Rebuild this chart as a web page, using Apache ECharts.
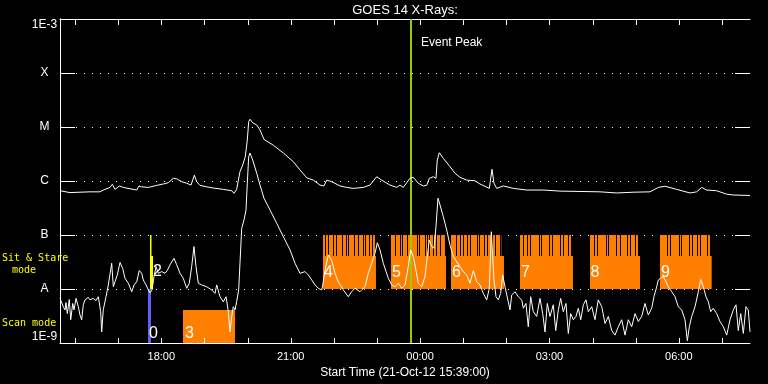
<!DOCTYPE html>
<html><head><meta charset="utf-8">
<script src="https://cdn.jsdelivr.net/npm/echarts@6/dist/echarts.min.js"></script>
<style>html,body{margin:0;padding:0;background:#000;}#c{width:768px;height:384px;}</style>
</head><body><div id="c"></div>
<script>
// time is minutes elapsed since the start time 21-Oct-12 15:39:00
const startClockMin = 15 * 60 + 39;
const spanMin = 960;
const hourTicks = [21,81,141,201,261,321,381,441,501,561,621,681,741,801,861,921];
const labelTicks = [141,321,501,681,861];
const yLevels = [1e-9,1e-8,1e-7,1e-6,1e-5,1e-4,1e-3];
const yLevelNames = ['1E-9','A','B','C','M','X','1E-3'];

// GOES 14 long channel (1-8 A), [minutes, W/m2]
const longChannel = [[0,6.6e-7],[13.9,6.1e-7],[27.8,6.2e-7],[41.7,6.3e-7],[55.7,6.3e-7],[60.2,6.8e-7],[69.6,7.6e-7],[72.8,8.7e-7],[76.5,7.0e-7],[82.5,8.1e-7],[88.1,7.6e-7],[97.4,7.2e-7],[106.7,6.8e-7],[109.9,8.1e-7],[113.7,7.8e-7],[122.9,7.6e-7],[134.5,8.3e-7],[143.7,8.8e-7],[150.7,9.3e-7],[157.6,1.12e-6],[162.4,1.10e-6],[169.3,9.7e-7],[176.3,9.1e-7],[182.3,8.4e-7],[186.9,1.28e-6],[190.2,9.7e-7],[194.8,8.3e-7],[204.1,7.8e-7],[213.3,7.4e-7],[227.2,7.0e-7],[238.9,6.6e-7],[242.1,5.9e-7],[245.8,7.0e-7],[250.4,1.49e-6],[254.2,1.98e-6],[257.8,2.82e-6],[260.6,5.74e-6],[262.5,1.25e-5],[264.3,1.39e-5],[268.1,1.20e-5],[273.7,1.09e-5],[278.3,8.8e-6],[283.8,5.9e-6],[296.8,4.6e-6],[310.7,3.3e-6],[324.6,2.28e-6],[333.9,1.60e-6],[343.2,1.15e-6],[352.4,1.04e-6],[361.7,8.4e-7],[367.3,8.1e-7],[371.1,1.04e-6],[378.0,9.7e-7],[389.6,8.1e-7],[398.9,7.6e-7],[408.1,7.3e-7],[422.0,7.6e-7],[431.3,8.4e-7],[440.6,1.20e-6],[447.6,1.04e-6],[459.1,8.4e-7],[468.5,7.6e-7],[473.0,8.4e-7],[477.6,7.6e-7],[486.9,1.12e-6],[491.5,1.17e-6],[498.5,9.1e-7],[505.5,8.1e-7],[510.2,8.3e-7],[513.8,1.12e-6],[519.4,1.20e-6],[523.1,1.12e-6],[524.9,2.45e-6],[527.7,3.34e-6],[533.3,2.63e-6],[542.6,1.84e-6],[549.6,1.39e-6],[551.9,1.49e-6],[556.5,1.17e-6],[565.8,1.04e-6],[577.4,1.01e-6],[584.3,8.8e-7],[597.3,7.3e-7],[601.0,1.65e-6],[603.8,9.1e-7],[607.6,7.3e-7],[616.8,8.1e-7],[630.7,7.3e-7],[649.3,6.8e-7],[672.4,6.8e-7],[695.7,6.5e-7],[723.5,6.4e-7],[751.3,6.3e-7],[774.5,6.0e-7],[797.6,6.2e-7],[820.8,6.3e-7],[832.4,7.6e-7],[841.7,8.0e-7],[858.0,7.0e-7],[876.5,6.0e-7],[885.8,6.3e-7],[892.8,7.6e-7],[899.7,6.8e-7],[913.6,6.6e-7],[927.6,5.7e-7],[936.8,5.5e-7],[960,5.4e-7]];

// GOES 14 short channel (0.5-4 A), [minutes, W/m2]
const shortChannel = [[0,6.7e-9],[2.4,6.7e-9],[4.6,4.7e-9],[7.0,4.1e-9],[8.3,5.6e-9],[10.2,3.5e-9],[12.9,6.4e-9],[14.9,2.7e-9],[17.7,5.4e-9],[19.5,4.1e-9],[22.3,6.7e-9],[25.5,4.7e-9],[27.8,3.3e-9],[30.2,2.7e-9],[32.4,5.1e-9],[34.8,6.3e-9],[39.4,7.0e-9],[41.7,6.3e-9],[46.3,6.7e-9],[50.1,6.1e-9],[53.3,7.2e-9],[56.6,3.8e-9],[58.0,1.6e-9],[60.2,4.1e-9],[64.0,7.2e-9],[67.2,1.19e-8],[69.6,1.28e-8],[71.9,3.0e-8],[74.2,1.10e-8],[76.5,1.36e-8],[79.7,1.82e-8],[83.5,3.1e-8],[87.2,2.4e-8],[90.4,1.58e-8],[95.0,1.28e-8],[99.8,8.9e-9],[103.0,1.19e-8],[106.7,1.36e-8],[110.3,2.2e-8],[113.7,1.95e-8],[115.9,1.47e-8],[119.7,1.19e-8],[122.9,9.6e-9],[125.2,8.5e-9],[128.0,9.6e-9],[130.8,1.69e-8],[133.6,2.6e-8],[136.8,1.95e-8],[141.5,2.1e-8],[146.1,1.95e-8],[149.3,2.2e-8],[153.0,2.8e-8],[158.6,3.7e-8],[162.4,2.8e-8],[167.0,1.95e-8],[171.5,1.58e-8],[176.3,1.03e-8],[179.9,1.28e-8],[183.2,2.6e-8],[186.4,6.1e-8],[189.2,2.6e-8],[192.4,1.28e-8],[197.1,1.19e-8],[204.1,1.10e-8],[211.1,9.6e-9],[215.7,8.3e-9],[218.0,1.19e-8],[222.6,7.2e-9],[227.2,5.8e-9],[231.0,7.2e-9],[234.2,3.8e-9],[236.5,1.6e-9],[238.9,3.1e-9],[241.1,4.7e-9],[243.5,4.1e-9],[245.8,5.8e-9],[248.6,9.6e-9],[250.4,3.0e-8],[252.8,1.33e-7],[256.0,1.90e-7],[258.8,2.9e-7],[260.6,9.1e-7],[262.5,2.8e-6],[264.3,3.3e-6],[268.1,2.45e-6],[273.7,1.39e-6],[278.3,8.4e-7],[283.8,4.8e-7],[292.2,2.9e-7],[301.5,1.65e-7],[310.7,9.3e-8],[320.0,5.3e-8],[327.0,3.0e-8],[333.9,1.95e-8],[340.9,2.1e-8],[345.5,1.82e-8],[350.2,1.47e-8],[354.8,1.19e-8],[359.4,1.03e-8],[364.1,9.6e-9],[365.5,1.19e-8],[368.7,2.2e-8],[373.3,4.3e-8],[378.0,3.4e-8],[382.6,1.95e-8],[387.2,1.36e-8],[394.2,9.6e-9],[401.1,7.2e-9],[405.8,8.9e-9],[410.4,1.03e-8],[417.4,8.9e-9],[424.3,1.10e-8],[428.9,1.95e-8],[433.7,3.0e-8],[438.3,4.6e-8],[441.5,7.2e-8],[445.2,5.3e-8],[449.8,3.0e-8],[456.8,1.58e-8],[461.5,1.19e-8],[466.1,1.10e-8],[470.7,1.28e-8],[475.4,1.03e-8],[480.0,1.19e-8],[484.6,2.6e-8],[487.9,5.3e-8],[491.5,4.0e-8],[495.3,2.2e-8],[498.5,1.28e-8],[503.2,1.10e-8],[507.8,1.69e-8],[511.0,4.0e-8],[513.8,8.1e-8],[517.2,6.1e-8],[520.4,5.7e-8],[523.1,1.43e-7],[525.9,4.8e-7],[528.7,3.6e-7],[533.3,2.18e-7],[538.0,1.24e-7],[542.6,6.5e-8],[547.2,4.0e-8],[551.9,3.2e-8],[556.5,2.6e-8],[561.1,2.1e-8],[565.8,1.82e-8],[570.4,1.28e-8],[575.0,2.2e-8],[579.7,1.36e-8],[584.3,1.19e-8],[588.9,8.3e-9],[593.7,6.3e-9],[597.3,1.03e-8],[600.1,1.15e-7],[603.8,1.47e-8],[606.6,7.2e-9],[609.8,6.3e-9],[613.1,8.3e-9],[615.9,1.82e-8],[619.1,1.10e-8],[623.7,5.8e-9],[626.1,4.1e-9],[628.4,7.7e-9],[633.0,8.9e-9],[637.6,7.2e-9],[642.4,6.3e-9],[644.6,4.4e-9],[648.3,5.4e-9],[651.5,2.0e-9],[654.9,7.2e-9],[658.5,3.8e-9],[663.2,3.1e-9],[667.8,6.7e-9],[671.6,3.5e-9],[674.8,1.6e-9],[678.0,5.4e-9],[681.7,3.1e-9],[686.3,5.1e-9],[689.7,1.7e-9],[693.3,4.1e-9],[696.6,6.7e-9],[700.2,3.8e-9],[704.0,5.4e-9],[707.2,1.5e-9],[710.5,3.5e-9],[714.2,2.7e-9],[717.9,3.1e-9],[721.1,4.4e-9],[724.5,2.7e-9],[728.1,5.1e-9],[731.8,6.3e-9],[735.0,3.8e-9],[739.8,4.7e-9],[744.3,2.7e-9],[748.9,6.3e-9],[753.7,4.7e-9],[758.3,2.3e-9],[762.9,3.1e-9],[767.6,1.7e-9],[772.2,1.4e-9],[776.8,2.0e-9],[781.5,2.7e-9],[786.1,1.4e-9],[790.7,2.7e-9],[795.4,2.0e-9],[800.0,3.5e-9],[804.6,2.5e-9],[809.3,3.1e-9],[813.9,5.4e-9],[818.5,3.3e-9],[823.2,4.4e-9],[826.4,7.2e-9],[830.2,1.10e-8],[832.4,1.47e-8],[835.7,1.58e-8],[839.4,1.69e-8],[843.1,1.36e-8],[846.3,1.10e-8],[851.1,8.9e-9],[855.7,7.2e-9],[860.2,4.7e-9],[865.0,4.1e-9],[869.6,2.7e-9],[872.8,1.1e-9],[875.6,2.0e-9],[878.9,3.1e-9],[883.5,4.7e-9],[888.1,8.9e-9],[891.4,1.5e-8],[895.0,1.10e-8],[898.8,7.2e-9],[902.0,5.8e-9],[905.3,3.8e-9],[908.9,4.4e-9],[913.7,3.5e-9],[918.3,2.5e-9],[922.9,2.0e-9],[927.6,1.4e-9],[932.2,2.7e-9],[936.8,4.1e-9],[940.5,5.1e-9],[943.7,1.7e-9],[947.1,3.5e-9],[950.7,1.5e-9],[954.4,4.7e-9],[957.6,4.1e-9],[960,1.6e-9]];

// observation blocks: [start, end, low, high]
const scanBlocks = [[171.1,243.5,1e-9,4.1e-9]];
const blueBlocks = [[122.4,126.6,1e-9,1e-8]];
const yellowBlocks = [[125.2,129.4,1e-8,4.1e-8],[125.2,127.3,4.1e-8,1e-7]];
const sitStareStart = [365.9,460.5,544.0,640.0,737.4,834.8];
const sitStareEnd   = [439.6,537.0,617.7,713.7,807.0,906.7];
const sitStareExpEnd= [438.2,535.6,614.1,711.0,804.2,904.3];
const stripeTimes = [368.7,372.9,379.8,384.0,392.3,397.9,400.7,409.0,414.6,421.6,424.3,429.9,434.1,
  466.1,473.0,475.4,483.2,486.9,497.1,499.9,507.9,511.0,513.8,519.4,523.1,528.7,
  551.0,556.5,560.3,566.7,570.4,579.7,582.9,589.9,593.7,601.5,605.2,612.2,
  643.8,649.7,653.5,666.0,669.6,680.8,685.0,696.1,699.8,706.8,710.5,
  742.9,747.1,759.2,762.8,774.0,778.7,789.3,793.5,800.4,804.2,
  844.9,849.1,860.8,864.0,875.5,879.3,886.7,890.4,900.6,904.3];
const blockLabels = [['0',123.8,1.5e-9],['2',129.4,2.1e-8],['3',173.9,1.5e-9],['4',367.3,2.0e-8],['5',461.9,2.0e-8],['6',545.4,2.0e-8],['7',641.4,2.0e-8],['8',738.0,2.0e-8],['9',836.2,2.0e-8]];
const eventPeakT = 488.3;
const eventLabelPos = [488.3, 3.7e-4];

const orangeBlocks = scanBlocks.slice();
for (let i = 0; i < sitStareStart.length; i++) {
  orangeBlocks.push([sitStareStart[i], sitStareEnd[i], 1e-8, 4.1e-8]);
  orangeBlocks.push([sitStareStart[i], sitStareExpEnd[i], 4.1e-8, 1e-7]);
}

function rectItem(color) {
  return function (params, api) {
    const p0 = api.coord([api.value(0), api.value(3)]);
    const p1 = api.coord([api.value(1), api.value(2)]);
    return { type: 'rect', shape: { x: p0[0], y: p0[1], width: p1[0] - p0[0], height: p1[1] - p0[1] }, style: { fill: color } };
  };
}
function seg(x1, y1, x2, y2) {
  return { type: 'line', shape: { x1: x1, y1: y1, x2: x2, y2: y2 }, style: { stroke: '#fff', lineWidth: 1 } };
}

const FONT = 'Liberation Sans';
const MONO = 'DejaVu Sans Mono';
const chart = echarts.init(document.getElementById('c'));
const axisWhite = { lineStyle: { color: '#fff', width: 1 } };
function clock(v) {
  const m = Math.round(startClockMin + v) % 1440;
  const h = Math.floor(m / 60), mm = m % 60;
  return (h < 10 ? '0' : '') + h + ':' + (mm < 10 ? '0' : '') + mm;
}
function levelName(v) {
  const i = yLevels.findIndex(l => Math.abs(Math.log10(l) - Math.log10(v)) < 0.01);
  return i < 0 ? '' : yLevelNames[i];
}

chart.setOption({
  backgroundColor: '#000',
  animation: false,
  title: { text: 'GOES 14 X-Rays:', left: 405, top: 4, padding: 0, textAlign: 'center',
    textStyle: { color: '#fff', fontFamily: FONT, fontSize: 13, fontWeight: 'normal' } },
  grid: { left: 60, right: 18, top: 19, bottom: 41 },
  xAxis: [
    { type: 'value', min: 0, max: spanMin, position: 'bottom',
      axisLine: axisWhite, axisTick: { show: false },
      axisLabel: { customValues: labelTicks, formatter: clock, color: '#fff', fontFamily: FONT, fontSize: 11, margin: 8 },
      splitLine: { show: false },
      name: 'Start Time (21-Oct-12 15:39:00)', nameLocation: 'middle', nameGap: 22,
      nameTextStyle: { color: '#fff', fontFamily: FONT, fontSize: 12 } },
    { type: 'value', min: 0, max: spanMin, position: 'top',
      axisLine: axisWhite, axisTick: { show: false },
      axisLabel: { show: false }, splitLine: { show: false } }
  ],
  yAxis: [
    { type: 'log', logBase: 10, min: 1e-9, max: 1e-3, position: 'left',
      axisLine: axisWhite, axisTick: { show: false },
      axisLabel: { customValues: yLevels, formatter: levelName, color: '#fff', fontFamily: FONT, fontSize: 12,
        margin: 15.5, align: 'center', verticalAlignMaxLabel: 'top', verticalAlignMinLabel: 'bottom' },
      splitLine: { show: true, lineStyle: { color: '#fff', width: 1, type: [1, 7] } } },
    { type: 'log', logBase: 10, min: 1e-9, max: 1e-3, position: 'right',
      axisLine: axisWhite, axisTick: { show: false },
      axisLabel: { show: false }, splitLine: { show: false } }
  ],
  graphic: [
    { type: 'text', left: 2, top: 253, style: { text: 'Sit & Stare', fill: '#ffff00', font: '10px ' + MONO } },
    { type: 'text', left: 12, top: 265, style: { text: 'mode', fill: '#ffff00', font: '10px ' + MONO } },
    { type: 'text', left: 2, top: 318, style: { text: 'Scan mode', fill: '#ffff00', font: '10px ' + MONO } }
  ],
  series: [
    { type: 'custom', z: 2, renderItem: rectItem('#ff7f00'), data: orangeBlocks, encode: { x: [0, 1], y: [2, 3] }, silent: true },
    { type: 'custom', z: 2, renderItem: rectItem('#5f5fff'), data: blueBlocks, encode: { x: [0, 1], y: [2, 3] }, silent: true },
    { type: 'custom', z: 2, renderItem: rectItem('#ffff00'), data: yellowBlocks, encode: { x: [0, 1], y: [2, 3] }, silent: true },
    { type: 'custom', z: 3, silent: true, data: stripeTimes.map(t => [t]),
      renderItem: function (params, api) {
        const a = api.coord([api.value(0), 1e-7]);
        const b = api.coord([api.value(0), 4.1e-8]);
        return { type: 'rect', shape: { x: Math.round(a[0]), y: a[1], width: 1, height: b[1] - a[1] }, style: { fill: '#000' } };
      } },
    // y ticks (left and right, pointing inward)
    { type: 'custom', z: 3, silent: true, data: yLevels.map(v => [0, v]), encode: { x: 0, y: 1 },
      renderItem: function (params, api) {
        const cs = params.coordSys;
        const y = Math.round(api.coord([0, api.value(1)])[1]) + 0.5;
        return { type: 'group', children: [seg(cs.x, y, cs.x + 15, y), seg(cs.x + cs.width - 15, y, cs.x + cs.width, y)] };
      } },
    // x ticks (bottom and top, pointing inward)
    { type: 'custom', z: 3, silent: true, data: hourTicks.map(t => [t, 1e-9]), encode: { x: 0, y: 1 },
      renderItem: function (params, api) {
        const cs = params.coordSys;
        const x = Math.round(api.coord([api.value(0), 1e-9])[0]) + 0.5;
        return { type: 'group', children: [seg(x, cs.y + cs.height - 5, x, cs.y + cs.height), seg(x, cs.y, x, cs.y + 6)] };
      } },
    { type: 'custom', z: 4, silent: true, data: blockLabels.map(l => [l[1], l[2]]),
      renderItem: function (params, api) {
        const p = api.coord([api.value(0), api.value(1)]);
        return { type: 'text', x: p[0], y: p[1], style: { text: blockLabels[params.dataIndex][0], fill: '#fff', font: '16px ' + FONT, align: 'left', verticalAlign: 'middle' } };
      } },
    { type: 'line', z: 5, data: longChannel, showSymbol: false, symbol: 'none', lineStyle: { color: '#fff', width: 1 }, silent: true },
    { type: 'line', z: 5, data: shortChannel, showSymbol: false, symbol: 'none', lineStyle: { color: '#fff', width: 1 }, silent: true },
    { type: 'line', z: 6, data: [], silent: true,
      markLine: { symbol: 'none', silent: true, animation: false, label: { show: false },
        lineStyle: { color: '#9acd00', width: 2, type: 'solid' }, data: [{ xAxis: eventPeakT }] } },
    { type: 'custom', z: 6, silent: true, data: [eventLabelPos],
      renderItem: function (params, api) {
        const p = api.coord([api.value(0), api.value(1)]);
        return { type: 'text', x: p[0] + 10, y: p[1], style: { text: 'Event Peak', fill: '#fff', font: '12px ' + FONT, align: 'left', verticalAlign: 'middle' } };
      } }
  ]
});
</script>
</body></html>
